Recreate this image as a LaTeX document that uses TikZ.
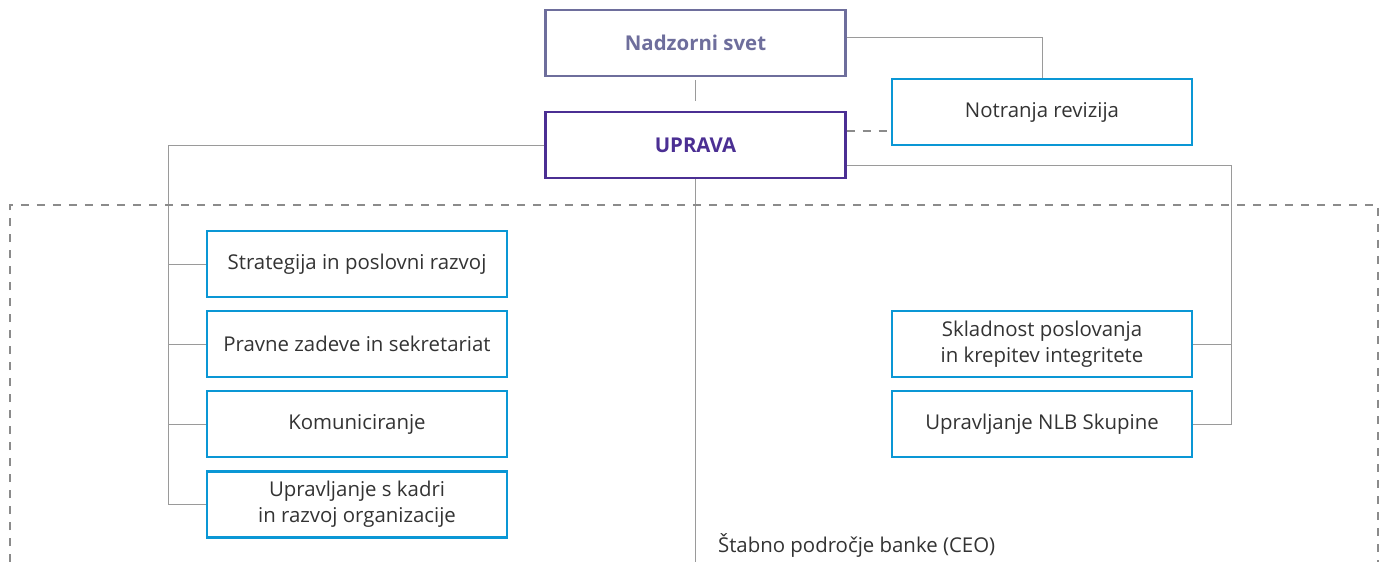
\documentclass[tikz,border=0pt]{standalone}
\usepackage{fontspec}
\setmainfont{Open Sans}
\definecolor{svet}{HTML}{6E6E9C}
\definecolor{uprava}{HTML}{4B2F93}
\definecolor{modra}{HTML}{0A97D5}
\definecolor{crta}{HTML}{9A9A9A}
\definecolor{besedilo}{HTML}{333333}
\begin{document}
\begin{tikzpicture}[x=0.5pt,y=-0.5pt,
  okvir/.style={draw=modra,line width=1.2pt,minimum width=150pt,minimum height=33pt,
    align=center,text=besedilo,font=\fontsize{10.2}{13}\selectfont},
  vodstvo/.style={okvir,font=\bfseries\fontsize{10.2}{13}\selectfont},
  povezava/.style={draw=crta,line width=0.5pt},
  crtkano/.style={draw=crta!90!black,line width=0.6pt,dash pattern=on 4pt off 4pt}]
\useasboundingbox (0,0) rectangle (1388,562);
% Vodstvo
\node[vodstvo,draw=svet,text=svet] (svet) at (695.5,43) {Nadzorni svet};
\node[vodstvo,draw=uprava,text=uprava] (uprava) at (695.5,145) {UPRAVA};
\node[okvir] (revizija) at (1042,112) {Notranja revizija};
%%%
% Stabno podrocje
\node[okvir] (strategija) at (357,264) {Strategija in poslovni razvoj};
\node[okvir] (pravne) at (357,344) {Pravne zadeve in sekretariat};
\node[okvir] (komunikacija) at (357,424) {Komuniciranje};
\node[okvir] (kadri) at (357,504.5) {Upravljanje s kadri\\in razvoj organizacije};
\node[okvir] (skladnost) at (1042,344) {Skladnost poslovanja\\in krepitev integritete};
\node[okvir] (skupina) at (1042,424) {Upravljanje NLB Skupine};
\node[anchor=west,text=besedilo,font=\fontsize{10.2}{13}\selectfont] (ceo) at (711,545)
  {Štabno področje banke (CEO)};
\coordinate (levo) at (168,0);
\coordinate (desno) at (1231,0);
\coordinate (dno) at (0,562);
%%%
% Povezave
\draw[povezava] ([yshift=-1.5pt]svet.south) -- ([yshift=5pt]uprava.north);
\draw[povezava] ([yshift=3pt]svet.east) -| (revizija.north);
\draw[crtkano] ([yshift=7pt]uprava.east) -- ([yshift=7pt]uprava.east -| revizija.west);
\draw[povezava] (uprava.south) -- (uprava.south |- dno);
\draw[povezava] (uprava.west) -| (kadri.west -| levo) -- (kadri.west);
\foreach \enota in {strategija,pravne,komunikacija}
  \draw[povezava] (\enota.west) -- (\enota.west -| levo);
\draw[povezava] ([yshift=-10pt]uprava.east) -| (skupina.east -| desno) -- (skupina.east);
\draw[povezava] (skladnost.east) -- (skladnost.east -| desno);
% Okvir stabnega podrocja
\draw[crtkano] (10,562) -- (10,205) -- (1378,205) -- (1378,562);
\end{tikzpicture}
\end{document}
